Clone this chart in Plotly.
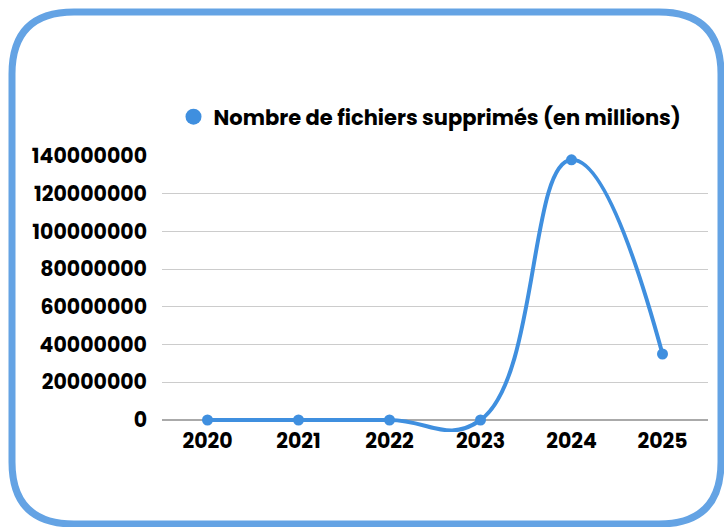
import plotly.graph_objects as go

years = ["2020", "2021", "2022", "2023", "2024", "2025"]
deleted_files = [0, 0, 0, 0, 138000000, 35000000]
series_name = "Nombre de fichiers supprimés (en millions)"
y_ticks = [0, 20000000, 40000000, 60000000, 80000000, 100000000, 120000000, 140000000]

W, H = 724, 527
ZERO_PX, TOP_PX = 420, 156          # pixel rows of 0 and 140M
PAD_PX = 12                         # white room below the zero line
L, R, T, B = 162, 708, TOP_PX, ZERO_PX + PAD_PX
y_max = 140000000
y_min = -PAD_PX * y_max / (ZERO_PX - TOP_PX)

def px(x):
    return (x - L) / (R - L)

def py(y):
    return (B - y) / (B - T)

def rounded_rect(x0, y0, x1, y1, r):
    pts = [
        f"M {px(x0 + r)} {py(y0)}",
        f"L {px(x1 - r)} {py(y0)}",
        f"Q {px(x1)} {py(y0)} {px(x1)} {py(y0 + r)}",
        f"L {px(x1)} {py(y1 - r)}",
        f"Q {px(x1)} {py(y1)} {px(x1 - r)} {py(y1)}",
        f"L {px(x0 + r)} {py(y1)}",
        f"Q {px(x0)} {py(y1)} {px(x0)} {py(y1 - r)}",
        f"L {px(x0)} {py(y0 + r)}",
        f"Q {px(x0)} {py(y0)} {px(x0 + r)} {py(y0)}",
        "Z",
    ]
    return " ".join(pts)

font_family = "Poppins, Inter, 'Open Sans', sans-serif"
color = "#3f8fdf"

fig = go.Figure()
fig.add_trace(go.Scatter(
    x=years, y=deleted_files, name=series_name,
    mode="lines+markers",
    line=dict(color=color, width=4, shape="spline", smoothing=1.3),
    marker=dict(color=color, size=11),
    showlegend=False, cliponaxis=False,
))
fig.add_trace(go.Scatter(
    x=[None], y=[None], name=series_name, mode="markers",
    marker=dict(color=color, size=20), showlegend=True,
))

fig.add_shape(type="path", xref="paper", yref="paper",
              path=rounded_rect(12, 12, 721, 524, 62),
              line=dict(color="#64a3e4", width=7), layer="above")

fig.update_layout(
    width=W, height=H,
    margin=dict(l=L, r=W - R, t=T, b=H - B, pad=0),
    paper_bgcolor="white", plot_bgcolor="white",
    font=dict(family=font_family, size=20, color="#000000", weight="bold"),
    showlegend=True,
    legend=dict(orientation="h", x=(430 - L) / (R - L), xanchor="center", y=py(117), yanchor="middle",
                font=dict(size=21, weight="bold", color="#000"), itemwidth=30),
    xaxis=dict(type="category", range=[-0.5, 5.5], showgrid=False, showline=False,
               ticks="", ticklabelstandoff=6 - PAD_PX, tickfont=dict(size=20.5, weight="bold"), zeroline=False),
    yaxis=dict(range=[y_min, y_max], tickvals=y_ticks, tickformat="d",
               showgrid=True, gridcolor="#cccccc", gridwidth=1,
               zeroline=True, zerolinecolor="#aaaaaa", zerolinewidth=2,
               showline=False, ticks="", ticklabelstandoff=14,
               tickfont=dict(size=20.5, weight="bold")),
)

fig.write_html("out.html", config={"displayModeBar": False},
               post_script="document.body.style.margin='0';")
